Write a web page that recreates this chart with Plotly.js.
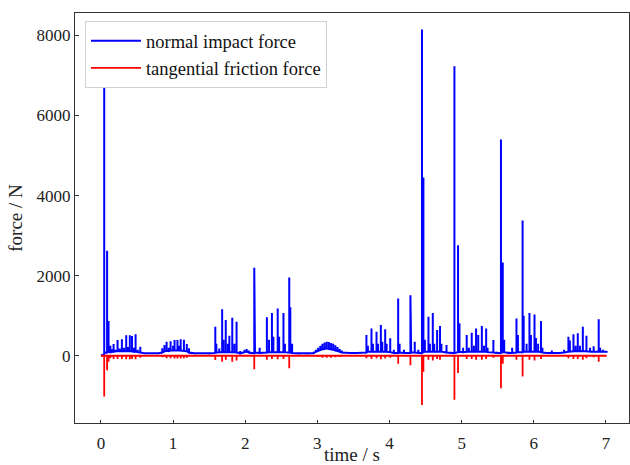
<!DOCTYPE html>
<html>
<head>
<meta charset="utf-8">
<script src="https://cdn.plot.ly/plotly-3.0.1.min.js"></script>
<style>html,body{margin:0;padding:0;background:#fff;}#chart{width:630px;height:465px;}</style>
</head>
<body>
<div id="chart"></div>
<script>
// Normal impact force spikes: time (s), peak (N), local baseline (N)
const normalTime = [0.045,0.050,0.085,0.105,0.130,0.155,0.175,0.200,0.230,0.260,0.290,0.320,0.350,0.375,0.400,0.430,0.455,0.480,0.510,0.545,0.600,0.700,0.800,0.850,0.880,0.910,0.940,0.965,1.000,1.020,1.060,1.085,1.105,1.150,1.190,1.220,1.300,1.400,1.500,1.585,1.600,1.640,1.680,1.700,1.730,1.760,1.780,1.820,1.850,1.880,1.930,1.990,2.020,2.050,2.125,2.135,2.200,2.300,2.330,2.370,2.390,2.450,2.470,2.530,2.550,2.610,2.625,2.650,2.750,2.850,2.950,2.980,3.010,3.040,3.070,3.100,3.130,3.160,3.190,3.220,3.250,3.280,3.310,3.340,3.450,3.550,3.680,3.700,3.750,3.770,3.820,3.840,3.880,3.900,3.940,3.960,4.010,4.060,4.120,4.140,4.200,4.290,4.300,4.350,4.400,4.450,4.470,4.490,4.540,4.560,4.600,4.620,4.660,4.700,4.720,4.790,4.850,4.900,4.950,4.970,5.020,5.070,5.100,5.140,5.170,5.200,5.230,5.280,5.310,5.340,5.360,5.440,5.490,5.545,5.570,5.590,5.650,5.700,5.760,5.780,5.845,5.860,5.900,5.940,5.960,6.010,6.030,6.060,6.100,6.120,6.180,6.250,6.350,6.420,6.480,6.500,6.550,6.580,6.610,6.640,6.680,6.730,6.780,6.830,6.900,6.920,6.960,7.010];
const normalPeak = [6700,1500,2620,870,250,160,290,150,390,180,410,200,510,220,510,490,200,535,150,225,70,65,70,190,265,350,200,360,250,390,390,250,410,400,290,190,70,65,70,725,300,180,1160,400,890,300,500,950,300,850,120,150,170,130,2200,850,200,960,400,1070,475,1180,475,1070,300,1955,1210,300,70,75,100,150,200,250,300,330,350,340,320,300,260,220,170,130,80,85,515,250,680,300,600,300,765,350,660,300,435,150,1430,300,150,1510,640,350,150,8150,4450,400,975,300,1070,300,640,740,300,270,100,7230,2760,810,200,515,200,575,250,680,515,740,250,680,200,390,100,5400,2330,400,100,200,930,515,3380,1000,300,1070,515,1030,440,300,865,200,90,130,90,150,475,380,535,250,560,250,725,500,200,240,910,200,150,120];
const normalBase = [40,80,80,100,90,100,100,110,110,110,110,110,110,110,110,110,100,100,90,80,60,60,60,80,110,120,120,130,130,130,130,130,130,120,110,80,60,60,60,70,80,90,90,90,90,90,90,90,90,80,60,90,100,80,60,80,70,80,90,90,90,90,90,90,90,80,80,70,60,60,70,100,120,140,160,170,180,170,160,150,130,120,100,80,70,70,80,100,100,100,100,100,100,100,100,100,90,70,70,80,70,70,80,80,70,70,90,100,100,100,100,100,100,100,100,80,70,70,90,100,90,100,100,100,100,100,100,100,100,100,90,80,70,70,90,90,70,70,80,90,90,100,100,100,100,100,100,100,90,80,70,70,70,80,100,100,110,110,110,110,110,110,100,100,100,100,100,100];

// Tangential friction force spikes: time (s), minimum (N)
const frictionTime = [0.045,0.085,0.105,0.130,0.175,0.230,0.290,0.350,0.400,0.430,0.480,0.545,0.850,0.910,0.965,1.020,1.060,1.105,1.150,1.190,1.585,1.680,1.730,1.820,1.880,2.125,2.300,2.370,2.450,2.530,2.610,3.000,3.070,3.130,3.190,3.250,3.310,3.680,3.750,3.820,3.880,3.940,4.010,4.120,4.290,4.450,4.470,4.540,4.600,4.660,4.700,4.900,4.950,5.070,5.140,5.200,5.280,5.340,5.440,5.545,5.570,5.760,5.845,5.940,6.010,6.100,6.480,6.550,6.610,6.680,6.730,6.830,6.900];
const frictionMin = [-1020,-360,-150,-60,-80,-80,-80,-90,-90,-80,-90,-50,-40,-60,-60,-70,-70,-70,-60,-50,-105,-150,-100,-150,-120,-340,-100,-80,-90,-80,-315,-30,-50,-50,-50,-40,-30,-60,-80,-60,-90,-70,-50,-200,-240,-1230,-400,-100,-120,-80,-100,-1100,-430,-80,-80,-100,-100,-80,-50,-815,-200,-100,-520,-100,-120,-80,-60,-80,-80,-100,-60,-40,-150];

const startTime = 0.0, endTime = 7.01;
const xTicks = [0,1,2,3,4,5,6,7];
const yTicks = [0,2000,4000,6000,8000];

// build polylines: vertical strokes base -> peak -> base at each spike time
const nx = [startTime], ny = [0];
for (let i = 0; i < normalTime.length; i++) {
  nx.push(normalTime[i], normalTime[i], normalTime[i]);
  ny.push(normalBase[i], normalPeak[i], normalBase[i]);
}
const fx = [startTime], fy = [0];
for (let i = 0; i < frictionTime.length; i++) {
  fx.push(frictionTime[i], frictionTime[i], frictionTime[i]);
  fy.push(0, frictionMin[i], 0);
}
fx.push(endTime); fy.push(0);

const FONT = "'Liberation Serif', 'Times New Roman', serif";
const traces = [
  {x: nx, y: ny, type: 'scatter', mode: 'lines', name: 'normal impact force',
   line: {color: '#0000ff', width: 2}},
  {x: fx, y: fy, type: 'scatter', mode: 'lines', name: 'tangential friction force',
   line: {color: '#ff0000', width: 1.8}}
];
const axisCommon = {
  showgrid: false, zeroline: false, showline: true, mirror: true,
  linecolor: '#333333', linewidth: 1.2, ticks: 'inside', ticklen: 3.5,
  tickwidth: 1, tickcolor: '#333333', tickfont: {family: FONT, size: 17, color: '#222'}
};
const layout = {
  width: 630, height: 465,
  margin: {l: 75, r: 1, t: 13, b: 42},
  paper_bgcolor: '#fff', plot_bgcolor: '#fff',
  font: {family: FONT, size: 17, color: '#222'},
  xaxis: Object.assign({}, axisCommon, {
    range: [-0.36, 7.32], tickvals: xTicks, ticktext: xTicks.map(String),
    ticklabelstandoff: 4,
    title: {text: 'time / s', font: {family: FONT, size: 19, color: '#222'}, standoff: 4}
  }),
  yaxis: Object.assign({}, axisCommon, {
    range: [-1680, 8560], tickvals: yTicks, ticktext: yTicks.map(String),
    title: {text: 'force / N', font: {family: FONT, size: 19, color: '#222'}, standoff: 8}
  }),
  legend: {
    x: 0.018, y: 0.98, xanchor: 'left', yanchor: 'top',
    bgcolor: '#ffffff', bordercolor: '#d0d0d0', borderwidth: 1,
    itemwidth: 50,
    font: {family: FONT, size: 18.5, color: '#111'}
  },
  showlegend: true
};
Plotly.newPlot('chart', traces, layout, {staticPlot: true, displayModeBar: false});
</script>
</body>
</html>
